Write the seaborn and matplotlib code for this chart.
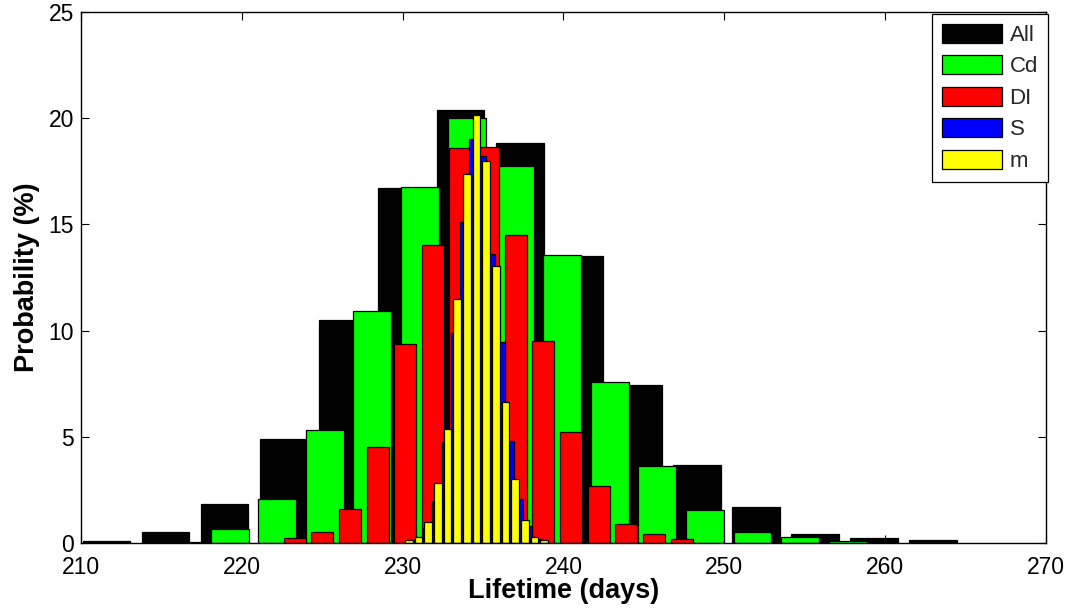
import matplotlib
matplotlib.use("Agg")
import matplotlib.pyplot as plt
from matplotlib.patches import Patch
import seaborn as sns

# ---- data ----
series_names = ["All", "Cd", "DI", "S", "m"]
series_colors = ["#000000", "#00ff00", "#ff0000", "#0000ff", "#ffff00"]

all_centers = [211.6, 215.27, 218.94, 222.61, 226.28, 229.95, 233.62, 237.29,
               240.96, 244.63, 248.3, 251.97, 255.64, 259.31, 262.98]
all_values = [0.1, 0.5, 1.84, 4.88, 10.5, 16.7, 20.4, 18.85,
              13.5, 7.44, 3.67, 1.69, 0.42, 0.22, 0.14]

cd_centers = [216.3, 219.25, 222.21, 225.16, 228.12, 231.07, 234.02, 236.98,
              239.93, 242.89, 245.84, 248.79, 251.75, 254.7, 257.66]
cd_values = [0.07, 0.64, 2.07, 5.33, 10.92, 16.76, 20.02, 17.76,
             13.56, 7.57, 3.64, 1.54, 0.5, 0.27, 0.1]

di_centers = [223.28, 225.0, 226.72, 228.44, 230.16, 231.88, 233.59, 235.31,
              237.03, 238.75, 240.47, 242.19, 243.91, 245.63, 247.35]
di_values = [0.22, 0.5, 1.6, 4.5, 9.37, 14.03, 18.58, 18.63,
             14.5, 9.5, 5.23, 2.68, 0.89, 0.41, 0.19]

s_centers = [230.36, 230.93, 231.51, 232.08, 232.66, 233.23, 233.81, 234.38,
             234.96, 235.53, 236.11, 236.68, 237.26, 237.83, 238.41]
s_values = [0.05, 0.2, 0.7, 2.0, 4.77, 9.87, 15.1, 19.0,
            18.2, 13.6, 9.48, 4.8, 2.07, 0.8, 0.2]

m_centers = [230.39, 230.99, 231.59, 232.19, 232.79, 233.39, 233.99, 234.59,
             235.19, 235.79, 236.39, 236.99, 237.59, 238.19, 238.79]
m_values = [0.13, 0.27, 0.97, 2.81, 5.35, 11.49, 17.36, 20.17,
            18.0, 13.04, 6.62, 3.03, 1.07, 0.27, 0.13]

x_ticks = [210, 220, 230, 240, 250, 260, 270]
y_ticks = [0, 5, 10, 15, 20, 25]

# ---- plotting ----
sns.set_theme(style="white")
plt.rcParams["font.family"] = ["Liberation Sans", "DejaVu Sans"]

fig = plt.figure(figsize=(10.7, 6.08), dpi=100)
ax = fig.add_axes([81 / 1070, 1 - 543 / 608, (1046 - 81) / 1070, (543 - 12) / 608])

centers_list = [all_centers, cd_centers, di_centers, s_centers, m_centers]
values_list = [all_values, cd_values, di_values, s_values, m_values]

for cx, vals, col in zip(centers_list, values_list, series_colors):
    sns.barplot(x=cx, y=vals, native_scale=True, width=0.8, color=col,
                saturation=1, edgecolor="black", linewidth=0.9,
                errorbar=None, ax=ax)

ax.set_xlim(210, 270)
ax.set_ylim(0, 25)
ax.set_xticks(x_ticks)
ax.set_xticklabels([str(t) for t in x_ticks])
ax.set_yticks(y_ticks)
ax.set_yticklabels([str(t) for t in y_ticks])
ax.tick_params(axis="both", which="major", direction="in", length=6, width=0.8,
               color="black", labelsize=16.5, labelcolor="black",
               top=True, right=True, bottom=True, left=True)
ax.tick_params(axis="x", pad=9)
ax.tick_params(axis="y", pad=5)
for sp in ax.spines.values():
    sp.set_visible(True)
    sp.set_color("black")
    sp.set_linewidth(1.0)

ax.set_xlabel("Lifetime (days)", fontsize=19.5, fontweight="bold", labelpad=0,
              color="black")
ax.set_ylabel("Probability (%)", fontsize=19.5, fontweight="bold", labelpad=6,
              color="black")

handles = [Patch(facecolor=c, edgecolor="black", linewidth=0.9) for c in series_colors]
leg = ax.legend(handles, series_names, loc="upper right", bbox_to_anchor=(1.002, 0.997),
                borderaxespad=0.0, fontsize=16, frameon=True, fancybox=False,
                handlelength=2.7, handleheight=0.95, labelspacing=0.42,
                handletextpad=0.35, borderpad=0.45)
leg.get_frame().set_edgecolor("black")
leg.get_frame().set_linewidth(0.9)
leg.get_frame().set_alpha(1)

fig.savefig("out.png", dpi=100)
